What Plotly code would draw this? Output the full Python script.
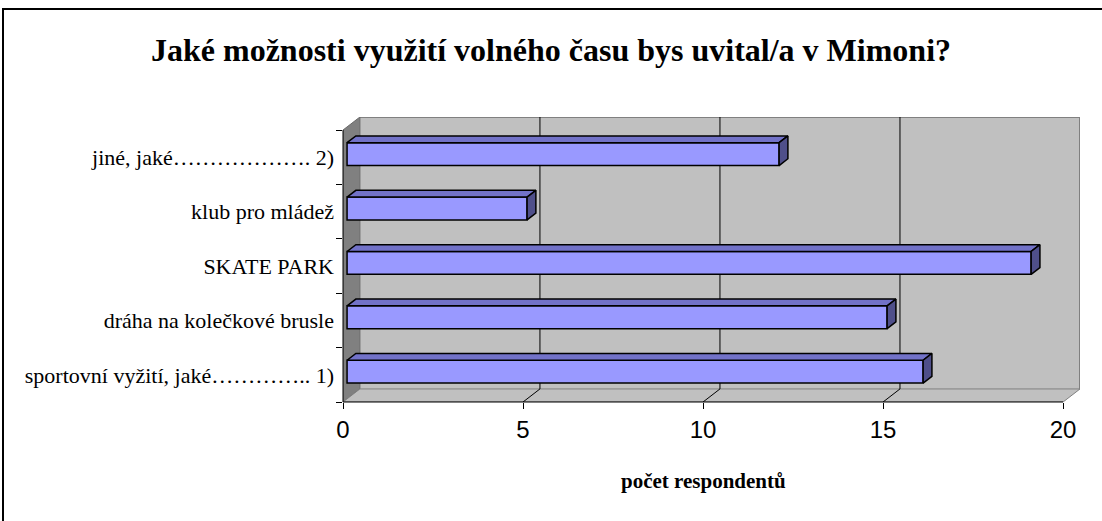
import plotly.graph_objects as go

# data (bottom to top, as in the chart)
categories = [
    "sportovní vyžití, jaké\u2026\u2026\u2026\u2026.. 1)",
    "dráha na kolečkové brusle",
    "SKATE PARK",
    "klub pro mládež",
    "jiné, jaké\u2026\u2026\u2026\u2026\u2026\u2026. 2)",
]
values = [16, 15, 19, 5, 12]
x_ticks = [0, 5, 10, 15, 20]
title_text = "Jaké možnosti využití volného času bys uvital/a v Mimoni?"
x_title = "počet respondentů"

# fake 3d geometry (Excel-like 3d bar)
W, H = 1102, 521
XMAX = 20
DX, DY = 0.47, 0.24          # wall depth in data units
F0, F1 = 0.24, 0.76          # bar front/back as fraction of depth
BAR_W = 0.42
n = len(categories)
xr = [0, XMAX + DX]
yr = [-0.5, n - 0.5 + DY]

FRONT = "#9999FF"
TOP = "#7272C8"
SIDE = "#4F4F8A"
WALL = "#C0C0C0"
DARK = "#808080"
SERIF = "Liberation Serif"


def px(v):
    return (v - xr[0]) / (xr[1] - xr[0])


def py(v):
    return (v - yr[0]) / (yr[1] - yr[0])


base = F0 * DX
ddx = (F1 - F0) * DX
ddy = (F1 - F0) * DY
ypos = [i + F0 * DY for i in range(n)]

top_x, top_y, side_x, side_y = [], [], [], []
for v, y in zip(values, ypos):
    yt = y + BAR_W / 2
    yb = y - BAR_W / 2
    top_x += [base, base + v, base + v + ddx, base + ddx, base, None]
    top_y += [yt, yt, yt + ddy, yt + ddy, yt, None]
    side_x += [base + v, base + v, base + v + ddx, base + v + ddx, base + v, None]
    side_y += [yb, yt, yt + ddy, yb + ddy, yb, None]

fig = go.Figure()
fig.add_trace(go.Bar(
    y=ypos, x=values, base=base, orientation="h", width=BAR_W,
    marker=dict(color=FRONT, line=dict(color="black", width=1.5)),
    hoverinfo="skip",
))
fig.add_trace(go.Scatter(
    x=top_x, y=top_y, mode="lines", fill="toself", fillcolor=TOP,
    line=dict(color="black", width=1.5), hoverinfo="skip",
))
fig.add_trace(go.Scatter(
    x=side_x, y=side_y, mode="lines", fill="toself", fillcolor=SIDE,
    line=dict(color="black", width=1.5), hoverinfo="skip",
))

y0, y1 = -0.5, n - 0.5
shapes = []
# back wall
shapes.append(dict(type="rect", x0=DX, x1=XMAX + DX, y0=y0 + DY, y1=y1 + DY,
                   fillcolor=WALL, line_width=0, layer="below"))
shapes.append(dict(type="path",
                   path=f"M {DX},{y1 + DY} L {XMAX + DX},{y1 + DY} L {XMAX + DX},{y0 + DY}",
                   line=dict(color=DARK, width=2), layer="below"))
# left wall
shapes.append(dict(type="path",
                   path=f"M 0,{y0} L 0,{y1} L {DX},{y1 + DY} L {DX},{y0 + DY} Z",
                   fillcolor=DARK, line=dict(color="#6a6a6a", width=1), layer="below"))
# floor
shapes.append(dict(type="path",
                   path=f"M 0,{y0} L {XMAX},{y0} L {XMAX + DX},{y0 + DY} L {DX},{y0 + DY} Z",
                   fillcolor=WALL, line=dict(color=DARK, width=1), layer="below"))
# gridlines on wall and floor
for t in x_ticks[1:-1]:
    shapes.append(dict(type="line", x0=t + DX, x1=t + DX, y0=y0 + DY, y1=y1 + DY,
                       line=dict(color="black", width=1), layer="below"))
    shapes.append(dict(type="line", x0=t, x1=t + DX, y0=y0, y1=y0 + DY,
                       line=dict(color="black", width=1), layer="below"))
# front axis lines
shapes.append(dict(type="line", xref="paper", yref="paper",
                   x0=px(0), x1=px(XMAX), y0=py(y0), y1=py(y0),
                   line=dict(color="black", width=1), layer="above"))
shapes.append(dict(type="line", xref="paper", yref="paper",
                   x0=px(0), x1=px(0), y0=py(y0), y1=py(y1),
                   line=dict(color="black", width=1), layer="above"))

# outer frame of the chart
L, R, T, B = 343, W - 1080, 117, H - 402
pw, ph = W - L - R, H - T - B
shapes.append(dict(type="rect", xref="paper", yref="paper",
                   x0=(3 - L) / pw, x1=(W + 10 - L) / pw,
                   y0=(H - B - (H + 10)) / ph, y1=(H - B - 9) / ph,
                   line=dict(color="black", width=2), fillcolor="rgba(0,0,0,0)",
                   layer="above"))

fig.update_layout(
    width=W, height=H,
    margin=dict(l=L, r=R, t=T, b=B, pad=0),
    paper_bgcolor="white", plot_bgcolor="rgba(0,0,0,0)",
    showlegend=False, barmode="overlay",
    shapes=shapes,
    title=dict(text=f"<b>{title_text}</b>", x=0.5, xref="container", xanchor="center",
               y=1 - 50 / H, yref="container", yanchor="middle",
               font=dict(family=SERIF, size=32, color="black")),
    xaxis=dict(range=xr, tickvals=x_ticks, ticks="outside", ticklen=6,
               tickcolor="black", tickwidth=1, showgrid=False, zeroline=False,
               showline=False, ticklabelstandoff=0,
               tickfont=dict(family="Liberation Sans", size=24, color="black")),
    yaxis=dict(range=yr, tickvals=list(range(n)), ticktext=categories, ticks="",
               showgrid=False, zeroline=False, showline=False, ticklabelstandoff=8,
               tickfont=dict(family=SERIF, size=22, color="black"),
               minor=dict(tickvals=[k - 0.5 for k in range(n + 1)], ticks="outside",
                          ticklen=6, tickcolor="black", tickwidth=1, showgrid=False)),
    annotations=[dict(text=f"<b>{x_title}</b>", x=XMAX / 2, xref="x",
                      y=py(y0) - 79 / ph, yref="paper", yanchor="middle",
                      showarrow=False,
                      font=dict(family=SERIF, size=21, color="black"))],
)

fig.write_html("out.html", config={"displayModeBar": False},
               post_script="document.body.style.margin='0';")
